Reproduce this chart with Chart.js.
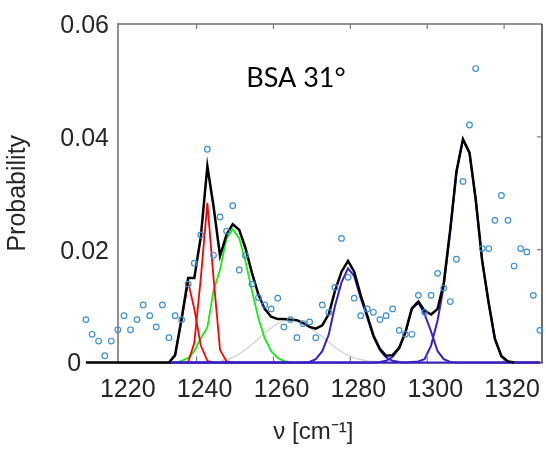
<!DOCTYPE html>
<html><head><meta charset="utf-8">
<script src="https://cdn.jsdelivr.net/npm/chart.js@4/dist/chart.umd.min.js"></script>
<style>html,body{margin:0;padding:0;background:#fff}</style>
</head><body>
<canvas id="c" width="546" height="450"></canvas>
<script>
const n = null;
// wavenumber grid (cm^-1) of the measured histogram and of the fitted curves
const wavenumbers = [1211.2,1212.8,1214.5,1216.1,1217.8,1219.5,1221.1,1222.8,1224.5,1226.1,
 1227.8,1229.5,1231.1,1232.8,1234.4,1236.1,1237.8,1239.4,1241.1,1242.8,
 1244.4,1246.1,1247.8,1249.4,1251.1,1252.7,1254.4,1256.1,1257.7,1259.4,
 1261.1,1262.7,1264.4,1266.1,1267.7,1269.4,1271.0,1272.7,1274.4,1276.0,
 1277.7,1279.4,1281.0,1282.7,1284.4,1286.0,1287.7,1289.3,1291.0,1292.7,
 1294.3,1296.0,1297.7,1299.3,1301.0,1302.7,1304.3,1306.0,1307.6,1309.3,
 1311.0,1312.6,1314.3,1316.0,1317.6,1319.3,1321.0,1322.6,1324.3,1325.9,
 1327.6,1329.3];
// measured probabilities (open circles)
const observed = [0.0076,0.0050,0.0038,0.0012,0.0038,0.0058,0.0083,0.0058,0.0076,0.0102,
 0.0083,0.0063,0.0102,0.0044,0.0083,0.0076,0.0139,0.0176,0.0226,0.0378,
 0.0190,0.0258,0.0233,0.0278,0.0164,0.0190,0.0139,0.0115,0.0102,0.0095,
 0.0114,0.0063,0.0076,0.0044,0.0069,0.0072,0.0044,0.0102,0.0089,0.0133,
 0.0220,0.0151,0.0114,0.0083,0.0095,0.0089,0.0076,0.0083,0.0095,0.0057,
 0.0050,0.0050,0.0119,0.0089,0.0119,0.0158,0.0132,0.0108,0.0183,0.0321,
 0.0421,0.0521,0.0202,0.0202,0.0252,0.0296,0.0252,0.0171,0.0202,0.0196,
 0.0119,0.0057];
// total fit (black)
const fitTotal = [0,0,0,0,0,0,0,0,0,0,
 0,0,0,0,0.0013,0.0078,0.0150,0.0150,0.0223,0.0348,
 0.0277,0.0189,0.0227,0.0245,0.0235,0.0203,0.0159,0.0120,0.0095,0.0081,
 0.0077,0.0077,0.0076,0.0075,0.0070,0.0063,0.0060,0.0066,0.0086,0.0127,
 0.0161,0.0180,0.0161,0.0119,0.0083,0.0048,0.0024,0.0012,0.0013,0.0026,
 0.0053,0.0096,0.0108,0.0092,0.0085,0.0095,0.0141,0.0236,0.0338,0.0396,
 0.0372,0.0290,0.0180,0.0105,0.0042,0.0011,0.0002,0,n,n,
 n,n];
const peakRed1 = [n,n,n,n,n,n,n,n,n,n,
 n,n,n,0,0.0012,0.0075,0.0142,0.0095,0.0030,0.0003,
 0,n,n,n,n,n,n,n,n,n, n,n,n,n,n,n,n,n,n,n, n,n,n,n,n,n,n,n,n,n,
 n,n,n,n,n,n,n,n,n,n, n,n,n,n,n,n,n,n,n,n, n,n];
const peakRed2 = [n,n,n,n,n,n,n,n,n,n,
 n,n,n,n,n,n,0,0.0035,0.0150,0.0283,
 0.0150,0.0022,0.0002,0,n,n,n,n,n,n, n,n,n,n,n,n,n,n,n,n, n,n,n,n,n,n,n,n,n,n,
 n,n,n,n,n,n,n,n,n,n, n,n,n,n,n,n,n,n,n,n, n,n];
const peakGreen = [n,n,n,n,n,n,n,n,n,n,
 n,n,n,n,0,0.0003,0.0008,0.0020,0.0043,0.0062,
 0.0127,0.0165,0.0220,0.0236,0.0220,0.0180,0.0127,0.0078,0.0043,0.0020,
 0.0008,0.0003,0,n,n,n,n,n,n,n, n,n,n,n,n,n,n,n,n,n,
 n,n,n,n,n,n,n,n,n,n, n,n,n,n,n,n,n,n,n,n, n,n];
const peakGray = [n,n,n,n,n,n,n,n,n,n, n,n,n,n,n,n,n,n,n,n,
 0,0.0002,0.0005,0.0009,0.0015,0.0023,0.0032,0.0042,0.0052,0.0061,
 0.0069,0.0074,0.0076,0.0075,0.0070,0.0062,0.0054,0.0046,0.0036,0.0027,
 0.0019,0.0013,0.0008,0.0005,0.0003,0.0002,0.0001,0,n,n,
 n,n,n,n,n,n,n,n,n,n, n,n,n,n,n,n,n,n,n,n, n,n];
const peakBlue1 = [n,n,n,n,n,n,n,n,n,n,
 n,n,n,0,0,0,0,0,0,0, 0,0,0,0,0,0,0,0,0,0,
 0,0,0,0,0,0.0001,0.0006,0.0020,0.0050,0.0100,
 0.0142,0.0167,0.0153,0.0114,0.0080,0.0046,0.0022,0.0009,0.0003,0.0001,
 0,0,0,0,0,0,0,0,0,0, 0,0,0,0,0,0,0,0,0,0, 0,0];
const peakBlue2 = [n,n,n,n,n,n,n,n,n,n,
 n,n,n,0,0,0,0,0,0,0, 0,0,0,0,0,0,0,0,0,0, 0,0,0,0,0,0,0,0,0,0,
 0,0,0,0,0,0,0.0001,0.0003,0.0010,0.0025,
 0.0053,0.0095,0.0106,0.0086,0.0055,0.0020,0.0006,0.0001,0,0,
 0,0,0,0,0,0,0,0,0,0, 0,0];
const peakBlue3 = [n,n,n,n,n,n,n,n,n,n,
 n,n,n,0,0,0,0,0,0,0, 0,0,0,0,0,0,0,0,0,0, 0,0,0,0,0,0,0,0,0,0, 0,0,0,0,0,0,0,0,0,0,
 0,0.0001,0.0002,0.0006,0.0030,0.0075,0.0135,0.0235,0.0338,0.0395,
 0.0371,0.0289,0.0180,0.0105,0.0042,0.0011,0.0002,0,0,0,
 0,0];
const xTickValues = [1220,1240,1260,1280,1300,1320];
const xTickLabels = ['1220','1240','1260','1280','1300','1320'];
const yTickValues = [0,0.02,0.04,0.06];
const yTickLabels = ['0','0.02','0.04','0.06'];
const xRange = [1219.55, 1329.86];
const yRange = [0, 0.06];
const annotationText = 'BSA 31°';
const annotationAt = {x: 1252.9, y: 0.0489};

const FONT = '"Liberation Sans", Arial, sans-serif';
const toPoints = arr => wavenumbers.map((x, i) => ({x: x, y: arr[i]})).filter(p => p.y !== null);
function curve(arr, color, width, order) {
  return {data: toPoints(arr), showLine: true, borderColor: color, backgroundColor: color,
    borderWidth: width, pointRadius: 0, pointHoverRadius: 0, tension: 0, clip: false, order: order};
}

const framePlugin = {
  id: 'frame',
  beforeDatasetsDraw(chart) {
    const ctx = chart.ctx, a = chart.chartArea, xs = chart.scales.x, ys = chart.scales.y;
    const seg = (x1, y1, x2, y2) => { ctx.beginPath(); ctx.moveTo(x1, y1); ctx.lineTo(x2, y2); ctx.stroke(); };
    ctx.save();
    ctx.lineWidth = 1.5;
    ctx.strokeStyle = '#707070';
    seg(a.left, a.top, a.right, a.top);
    ctx.strokeStyle = '#3a3a3a';
    seg(a.right, a.top, a.right, a.bottom);
    ctx.strokeStyle = '#777777';
    ctx.lineWidth = 1.2;
    xTickValues.slice(1).forEach(v => {
      const px = xs.getPixelForValue(v);
      seg(px, a.top, px, a.top + 5);
      seg(px, a.bottom, px, a.bottom - 6);
    });
    yTickValues.slice(1, -1).forEach(v => {
      const py = ys.getPixelForValue(v);
      seg(a.right, py, a.right - 5, py);
    });
    ctx.restore();
    // the measured histogram starts left of the axis: let the marks spill over it
    chart.$area = {left: a.left, width: a.width};
    const spill = xs.getPixelForValue(wavenumbers[0]) - 6;
    a.left = spill;
    a.width = a.right - spill;
  },
  afterDatasetsDraw(chart) {
    const a = chart.chartArea;
    if (chart.$area) { a.left = chart.$area.left; a.width = chart.$area.width; }
    const ctx = chart.ctx, xs = chart.scales.x, ys = chart.scales.y;
    ctx.save();
    ctx.font = '27px Lato, "Noto Sans", sans-serif';
    ctx.fillStyle = '#000';
    ctx.textAlign = 'left';
    ctx.textBaseline = 'alphabetic';
    ctx.fillText(annotationText, xs.getPixelForValue(annotationAt.x), ys.getPixelForValue(annotationAt.y));
    ctx.restore();
  }
};

new Chart(document.getElementById('c'), {
  type: 'scatter',
  data: {datasets: [
    {data: toPoints(observed), showLine: false, pointStyle: 'circle', pointRadius: 2.8, pointHoverRadius: 2.8,
     pointBorderWidth: 1.2, borderColor: '#3b8fd6', backgroundColor: 'rgba(0,0,0,0)', clip: false, order: 0},
    curve(fitTotal, '#000000', 2.5, 1),
    curve(peakBlue3, '#3a1fc6', 2, 2),
    curve(peakBlue2, '#3a1fc6', 2, 2),
    curve(peakBlue1, '#3a1fc6', 2, 2),
    curve(peakRed1, '#ff0000', 1.8, 3),
    curve(peakRed2, '#ff0000', 1.8, 3),
    curve(peakGreen, '#11ee11', 1.8, 3),
    curve(peakGray, '#cfcfcf', 1.2, 4)
  ]},
  options: {
    responsive: false, animation: false, devicePixelRatio: 1,
    layout: {padding: {top: 18, right: 1, left: 0, bottom: 0}},
    plugins: {legend: {display: false}, tooltip: {enabled: false}},
    events: [],
    scales: {
      x: {
        type: 'linear', position: 'bottom', bounds: 'data',
        afterDataLimits: s => { s.min = xRange[0]; s.max = xRange[1]; },
        afterBuildTicks: s => { s.ticks = xTickValues.map(v => ({value: v})); s.min = xRange[0]; s.max = xRange[1]; },
        afterFit: s => { s.height = 87.5; },
        grid: {display: false, drawTicks: false},
        border: {display: true, color: '#404040', width: 1.5},
        ticks: {font: {family: FONT, size: 25}, color: '#262626', padding: 13, labelOffset: 8,
          maxRotation: 0, minRotation: 0, autoSkip: false, callback: (v, i) => xTickLabels[i]},
        title: {display: true, text: 'ν [cm⁻¹]' + '\u00a0'.repeat(5), font: {family: FONT, size: 24},
          color: '#262626', padding: {top: 0, bottom: 3}}
      },
      y: {
        type: 'linear', position: 'left', min: yRange[0], max: yRange[1],
        afterBuildTicks: s => { s.ticks = yTickValues.map(v => ({value: v})); },
        afterFit: s => { s.width = 118; },
        grid: {display: false, drawTicks: false},
        border: {display: true, color: '#8f8f8f', width: 2},
        ticks: {font: {family: FONT, size: 25}, color: '#262626', padding: 9, labelOffset: 2,
          callback: (v, i) => yTickLabels[i] === '0' ? '0' + '\u00a0'.repeat(4) : yTickLabels[i]},
        title: {display: true, text: 'Probability', font: {family: FONT, size: 25},
          color: '#262626', padding: {top: 3, bottom: 0}}
      }
    }
  },
  plugins: [framePlugin]
});
</script>
</body></html>
